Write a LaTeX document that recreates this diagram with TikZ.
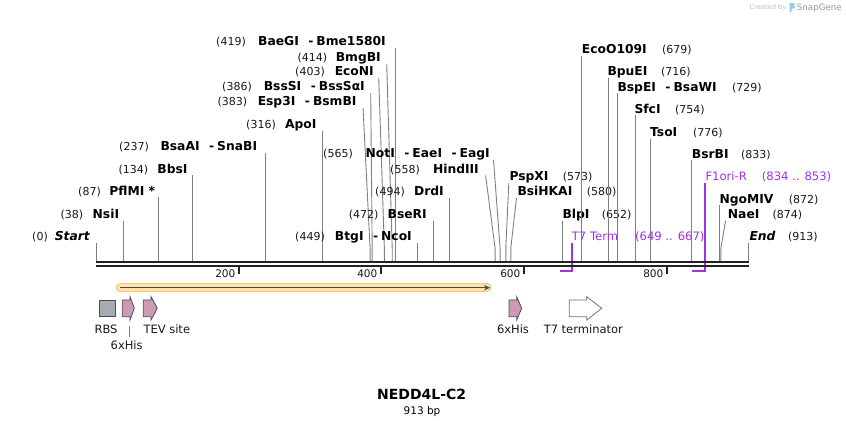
\documentclass[tikz,border=0pt]{standalone}
\usepackage{fontspec}
\setmainfont{DejaVu Sans}
\usetikzlibrary{arrows.meta}
\definecolor{cutgray}{HTML}{808080}
\definecolor{featpink}{HTML}{CC9AB5}
\definecolor{featedge}{HTML}{4D4D4D}
\definecolor{rbsgray}{HTML}{A6ACB3}
\definecolor{primpurple}{HTML}{A032EA}
\definecolor{orfglow}{HTML}{FDE3B0}
\definecolor{orfedge}{HTML}{F8C76E}
\definecolor{orfline}{HTML}{4A4A4A}
\definecolor{backbone}{HTML}{222222}
\definecolor{snapblue}{HTML}{8FCBF0}
\tikzset{
  enz/.style={font=\fontsize{12.3}{14}\selectfont\bfseries, inner sep=0pt, text=black},
  num/.style={font=\fontsize{11}{13}\selectfont, inner sep=0pt, text=black!90},
  ftxt/.style={font=\fontsize{11.5}{13}\selectfont, inner sep=0pt, text=black!90},
  ticktxt/.style={font=\fontsize{10.5}{12}\selectfont, inner sep=0pt, text=black!90},
  cutline/.style={draw=cutgray, line width=0.9pt},
  primline/.style={draw=primpurple, line width=1.8pt},
  primtxt/.style={font=\fontsize{11.6}{13}\selectfont, inner sep=0pt, text=primpurple},
  featshape/.style={draw=featedge, line width=0.8pt},
}
\newcommand\SX[1]{96.4+0.7145*#1}
\newcommand\enzsep{\hspace{9.5pt}-\hspace{3pt}}
% left-labelled site: id, y, number, number right x, name, name right x, position, dx of line top
\newcommand\Lsite[8]{%
  \node[num, anchor=base east] (#1n) at ({#4},{#2+4.2}) {#3};
  \node[enz, anchor=base east] (#1) at ({#6},{#2+4.2}) {#5};
  \coordinate (#1t) at ({\SX{#7}+#8},{#2+6.5});
  \coordinate (#1k) at ({\SX{#7}},248);
  \coordinate (#1s) at ({\SX{#7}},261);
  \draw[cutline] (#1t) -- (#1k) -- (#1s);
}
% right-labelled site: id, y, name, name left x, number, number left x, position, dx of line top
\newcommand\Rsite[8]{%
  \node[enz, anchor=base west] (#1) at ({#4},{#2+4.2}) {#3};
  \node[num, anchor=base west] (#1n) at ({#6},{#2+4.2}) {#5};
  \coordinate (#1t) at ({\SX{#7}+#8},{#2+6.5});
  \coordinate (#1k) at ({\SX{#7}},248);
  \coordinate (#1s) at ({\SX{#7}},261);
  \draw[cutline] (#1t) -- (#1k) -- (#1s);
}
% feature arrow: id, left x, head base x, tip x, fill
\newcommand\featarrow[5]{%
  \draw[featshape, fill=#5] (#2,300) -- (#3,300) -- (#3,296.7) -- (#4,308.3) -- (#3,320) -- (#3,316.7) -- (#2,316.7) -- cycle;
  \coordinate (#1) at ({(#2+#4)/2},308.3);
}
\begin{document}
\begin{tikzpicture}[x=1pt,y=-1pt]
\fill[white] (0,0) rectangle (846,427);
\useasboundingbox (0,0) rectangle (846,427);

% watermark
\node[font=\fontsize{6.7}{8}\selectfont, text=black!25, anchor=base west, inner sep=0pt] (wm1) at (749.3,10) {Created by};
\fill[snapblue] (789.5,2.8) -- (794.6,3.4) -- (794.6,8.2) -- (791.6,8.8) -- (791.6,12) -- (789.5,12) -- cycle;
\node[font=\fontsize{8.7}{10}\selectfont, text=black!40, anchor=base west, inner sep=0pt] (wm2) at (796.7,10.6) {SnapGene};

% left-labelled enzymes
\Lsite{start}{236.7}{(0)}{48}{\itshape Start}{90}{0}{0}
\Lsite{nsi}{214.3}{(38)}{83.3}{NsiI}{119.3}{38}{0}
\Lsite{pfl}{191}{(87)}{101}{PflMI *}{155.3}{87}{0}
\Lsite{bbs}{169}{(134)}{148.3}{BbsI}{187.7}{134}{0}
\Lsite{bsaa}{146.7}{(237)}{149}{BsaAI\enzsep SnaBI}{257.3}{237}{0}
\Lsite{apo}{124.3}{(316)}{276}{ApoI}{316.7}{316}{0}
\Lsite{esp}{101.7}{(383)}{247.3}{Esp3I\enzsep BsmBI}{356.7}{383}{-7}
\Lsite{bss}{86.7}{(386)}{252}{BssSI\enzsep BssSαI}{365}{386}{-1.5}
\Lsite{econi}{71.7}{(403)}{325}{EcoNI}{374}{403}{-5.6}
\Lsite{bmg}{57.3}{(414)}{327.3}{BmgBI}{381}{414}{-5.5}
\Lsite{bae}{41.7}{(419)}{246}{BaeGI\enzsep Bme1580I}{386}{419}{0}
\Lsite{noti}{153.3}{(565)}{353}{NotI\enzsep EaeI\enzsep EagI}{490}{565}{-6.6}
\Lsite{hind}{169}{(558)}{420}{HindIII}{479}{558}{-9.5}
\Lsite{drd}{191.7}{(494)}{405}{DrdI}{444}{494}{0}
\Lsite{bser}{214.3}{(472)}{378.7}{BseRI}{427}{472}{0}
\Lsite{btg}{236.7}{(449)}{325}{BtgI\enzsep NcoI}{412}{449}{0}

% right-labelled enzymes
\Rsite{pspx}{176.7}{PspXI}{509.3}{(573)}{562.7}{573}{3}
\Rsite{bsihk}{191.7}{BsiHKAI}{517.3}{(580)}{586.7}{580}{5.7}
\Rsite{blp}{214.3}{BlpI}{562.3}{(652)}{601.7}{652}{0}
\Rsite{ecoo}{49.3}{EcoO109I}{581.7}{(679)}{662}{679}{0}
\Rsite{bpue}{71.7}{BpuEI}{607.3}{(716)}{661}{716}{0}
\Rsite{bspe}{87}{BspEI\enzsep BsaWI}{617.3}{(729)}{732}{729}{0}
\Rsite{sfc}{109}{SfcI}{634.3}{(754)}{675}{754}{0}
\Rsite{tso}{132.3}{TsoI}{650}{(776)}{693}{776}{0}
\Rsite{bsrb}{154}{BsrBI}{691.7}{(833)}{741}{833}{0}
\Rsite{ngo}{199}{NgoMIV}{719.3}{(872)}{788.7}{872}{0}
\Rsite{nae}{214.3}{NaeI}{727.7}{(874)}{772.3}{874}{4.7}
\Rsite{fin}{236.7}{\itshape End}{749.3}{(913)}{788}{913}{0}

% primers / purple features
\node[primtxt, anchor=base west] (t7) at (571.7,240.9) {T7 Term};
\node[primtxt, anchor=base west] (t7n) at (635,240.9) {(649 .. 667)};
\coordinate (t7top) at (571.7,243.2);
\coordinate (t7bot) at (571.7,271);
\coordinate (t7end) at ({\SX{649}},271);
\draw[primline] (t7top) -- (t7bot) -- (t7end);
\node[primtxt, anchor=base west] (f1) at (705.3,180.9) {F1ori-R};
\node[primtxt, anchor=base west] (f1n) at (761.7,180.9) {(834 .. 853)};
\coordinate (f1top) at (705.3,183.3);
\coordinate (f1bot) at (705.3,271);
\coordinate (f1end) at ({\SX{834}},271);
\draw[primline] (f1top) -- (f1bot) -- (f1end);

% backbone
\coordinate (bbL) at (96,262);
\coordinate (bbR) at (749.3,262);
\draw[line width=2.2pt, backbone] (bbL) -- (bbR);
\draw[line width=2pt, backbone] ([yshift=-4pt]bbL) -- ([yshift=-4pt]bbR);
\foreach \t/\x in {200/239,400/381,600/524,800/667} {
  \draw[line width=1.8pt, backbone] (\x,267) -- (\x,274.5);
  \node[ticktxt, anchor=base east] (tk\t) at (\x-3.5,277.5) {\t};
}

% ORF
\coordinate (orfA) at (120,287.7);
\coordinate (orfB) at (487,287.7);
\draw[line width=9pt, orfedge, line cap=round] (orfA) -- (orfB);
\draw[line width=6.6pt, orfglow, line cap=round] (orfA) -- (orfB);
\draw[line width=1.6pt, orfline, -{Stealth[length=6pt,width=5.5pt]}] (orfA) -- ([xshift=3pt]orfB);

% features
\draw[featshape, fill=rbsgray] (99,300) rectangle (115.7,316.7);
\coordinate (rbs) at (107.3,308.3);
\featarrow{his1}{122.3}{130}{134.3}{featpink}
\featarrow{tev}{143.3}{151}{157.3}{featpink}
\featarrow{his2}{509}{516.7}{521.7}{featpink}
\draw[featshape, draw=black!55, fill=white] (569.3,300) -- (586.7,300) -- (586.7,296.7) -- (601.7,308.3) -- (586.7,320) -- (586.7,316.7) -- (569.3,316.7) -- cycle;
\coordinate (t7feat) at (585.5,308.3);

\node[ftxt, anchor=base] (rbsl) at (106,334) {RBS};
\node[ftxt, anchor=base west] (tevl) at (143.3,334) {TEV site};
\node[ftxt, anchor=base] (his2l) at (513,334) {6xHis};
\node[ftxt, anchor=base] (t7l) at (583.3,334) {T7 terminator};
\node[ftxt, anchor=base] (his1l) at (126.7,350) {6xHis};
\coordinate (his1a) at (129,326);
\coordinate (his1b) at (129,337.5);
\draw[cutline, line width=0.7pt] (his1a) -- (his1b);

% title
\node[font=\fontsize{14}{16}\selectfont\bfseries, inner sep=0pt, anchor=base] (title) at (421.7,399.5) {NEDD4L-C2};
\node[font=\fontsize{10.5}{12}\selectfont, inner sep=0pt, anchor=base] (bp) at (422,414) {913 bp};
\end{tikzpicture}
\end{document}
